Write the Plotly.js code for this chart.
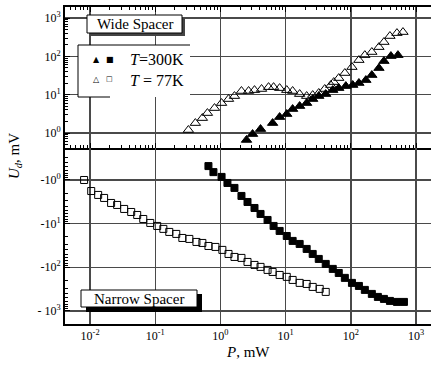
<!DOCTYPE html>
<html><head><meta charset="utf-8">
<script src="https://cdn.plot.ly/plotly-3.0.1.min.js"></script>
<style>html,body{margin:0;padding:0;background:#fff}#chart{width:431px;height:366px}</style>
</head><body><div id="chart"></div>
<script>
// Wide spacer, T=77K (open triangles)
const wide77P = [0.322,0.412,0.528,0.631,0.81,1.04,1.33,1.64,2.10,2.70,3.33,4.27,5.47,6.53,8.09,10.4,12.8,16.4,21.0,26.0,32.2,39.8,49.2,54.7,65.3,80.9,104,133,164,210,270,322,398,510,631];
const wide77U = [1.2,1.82,2.46,3.32,4.49,6.06,7.71,9.23,12.5,12.5,13.2,14.1,15.8,15.8,14.9,13.2,12.5,10.4,9.23,9.8,11.1,14.1,17.9,21.4,27.2,36.8,52.7,80.2,108,130,175,237,340,406,432];
// Wide spacer, T=300K (filled triangles)
const wide300P = [2.51,3.11,4.12,6.31,8.09,10.4,12.8,16.4,21.0,26.0,32.2,41.2,52.8,65.3,83.8,107,133,170,210,270,322,412,528];
const wide300U = [0.66,0.94,1.27,1.82,2.61,3.13,4.23,5.06,6.06,7.71,9.23,10.4,13.2,14.9,16.8,17.9,20.2,24.1,32.6,49.6,75.5,102,108];
// Narrow spacer, T=77K (open squares), negative values
const narrow77P = [0.00809,0.0104,0.0133,0.0164,0.021,0.026,0.0333,0.0427,0.0528,0.0654,0.0838,0.107,0.133,0.164,0.21,0.26,0.333,0.428,0.528,0.654,0.838,1.07,1.33,1.64,2.1,2.6,3.33,4.12,5.28,6.31,8.09,10.4,12.8,16.4,21.0,26.0,33.3,41.2];
const narrow77U = [-1.0,-1.79,-2.2,-2.58,-3.36,-3.73,-4.61,-5.41,-6.33,-7.82,-9.65,-11.3,-13.2,-15.5,-17.2,-21.3,-22.4,-26.3,-27.7,-32.5,-34.2,-40,-49.5,-58,-61,-75.5,-88.4,-98,-115,-128,-150,-166,-195,-228,-241,-282,-313,-367];
// Narrow spacer, T=300K (filled squares), negative values
const narrow300P = [0.654,0.78,1.04,1.28,1.64,2.1,2.6,3.33,4.12,5.28,6.53,8.09,10.4,12.8,16.4,21.0,26.0,32.2,41.2,52.8,65.3,80.9,104,133,164,210,260,322,398,510,653];
const narrow300U = [-0.48,-0.66,-0.85,-1.17,-1.52,-2.32,-3.19,-4.38,-6.0,-8.24,-11.3,-14.7,-19.2,-24.9,-29.2,-38,-49.5,-64.4,-83.8,-109,-135,-175,-228,-268,-330,-408,-478,-531,-590,-622,-622];

const xTickVals = [0.01,0.1,1,10,100,1000];
const xTickText = ['10<sup>-2</sup>','10<sup>-1</sup>','10<sup>0</sup>','10<sup>1</sup>','10<sup>2</sup>','10<sup>3</sup>'];
const topTickVals = [1,10,100,1000];
const topTickText = ['10<sup>0</sup>','10<sup>1</sup>','10<sup>2</sup>','10<sup>3</sup>'];
const botTickVals = [1,10,100,1000];
const botTickText = ['-10<sup>0</sup>','-10<sup>1</sup>','-10<sup>2</sup>','- 10<sup>3</sup>'];

const W=431,H=366,L=65,R=0,T=7,B=42;
const pw=W-L-R, ph=H-T-B;
const px=x=>(x-L)/pw, py=y=>(H-B-y)/ph;

const font='Liberation Serif, Times New Roman, serif';
const mk=(sym,size)=>({symbol:sym,size:size,color:'black',line:{color:'black',width:1}});

const traces=[
 {x:wide77P,y:wide77U,mode:'markers',type:'scatter',xaxis:'x',yaxis:'y',marker:mk('triangle-up-open',9)},
 {x:wide300P,y:wide300U,mode:'markers',type:'scatter',xaxis:'x',yaxis:'y',marker:mk('triangle-up',9)},
 {x:narrow77P,y:narrow77U.map(v=>-v),mode:'markers',type:'scatter',xaxis:'x2',yaxis:'y2',marker:mk('square-open',7)},
 {x:narrow300P,y:narrow300U.map(v=>-v),mode:'markers',type:'scatter',xaxis:'x2',yaxis:'y2',marker:mk('square',7)}
];

const split=py(148);
const gridc='#4a4a4a';
const minorX={ticks:'inside',ticklen:3,tickcolor:'black',dtick:'D1',showgrid:false};
const layout={
 width:W,height:H,margin:{l:L,r:R,t:T,b:B},showlegend:false,
 paper_bgcolor:'white',plot_bgcolor:'white',
 font:{family:font,size:12,color:'black'},
 xaxis:{type:'log',range:[-2.385,3.23],domain:[0,1],anchor:'y',showticklabels:false,
   tickmode:'array',tickvals:xTickVals,ticks:'inside',ticklen:5,tickcolor:'black',
   showgrid:true,gridcolor:gridc,gridwidth:1.5,showline:true,linecolor:'black',linewidth:2,mirror:'ticks',
   minor:minorX,zeroline:false},
 yaxis:{type:'log',range:[-0.39,3.29],domain:[split,1],anchor:'x',
   tickmode:'array',tickvals:topTickVals,ticktext:topTickText,ticks:'inside',ticklen:5,tickcolor:'black',
   showgrid:true,gridcolor:gridc,gridwidth:1.5,showline:true,linecolor:'black',linewidth:2,
   minor:{ticks:'inside',ticklen:3,tickcolor:'black',dtick:'D1',showgrid:false},
   tickfont:{family:font,size:12},zeroline:false},
 xaxis2:{type:'log',range:[-2.385,3.23],domain:[0,1],anchor:'y2',
   tickmode:'array',tickvals:xTickVals,ticktext:xTickText,ticks:'',
   showgrid:true,gridcolor:gridc,gridwidth:1.5,showline:true,linecolor:'black',linewidth:2,
   tickfont:{family:font,size:12},zeroline:false},
 yaxis2:{type:'log',range:[3.30,-0.733],domain:[0,split],anchor:'x2',
   tickmode:'array',tickvals:botTickVals,ticktext:botTickText,ticks:'inside',ticklen:5,tickcolor:'black',
   showgrid:true,gridcolor:gridc,gridwidth:1.5,showline:true,linecolor:'black',linewidth:2,
   minor:{ticks:'inside',ticklen:3,tickcolor:'black',dtick:'D1',showgrid:false},
   tickfont:{family:font,size:12},zeroline:false},
 shapes:[
  {type:'rect',xref:'paper',yref:'paper',x0:px(90),x1:px(185),y0:py(36),y1:py(18),fillcolor:'#444',line:{width:0},layer:'above'},
  {type:'rect',xref:'paper',yref:'paper',x0:px(87),x1:px(182),y0:py(33),y1:py(15),fillcolor:'white',line:{color:'black',width:1},layer:'above'},
  {type:'rect',xref:'paper',yref:'paper',x0:px(78),x1:px(190),y0:py(97),y1:py(45),fillcolor:'white',line:{width:0},layer:'above'},
  {type:'line',xref:'paper',yref:'paper',x0:px(78),x1:px(190),y0:py(45),y1:py(45),line:{color:'black',width:1},layer:'above'},
  {type:'line',xref:'paper',yref:'paper',x0:px(78),x1:px(78),y0:py(45),y1:py(97),line:{color:'black',width:1},layer:'above'},
  {type:'line',xref:'paper',yref:'paper',x0:px(78),x1:px(110),y0:py(97),y1:py(97),line:{color:'black',width:1},layer:'above'},
  {type:'rect',xref:'paper',yref:'paper',x0:px(86),x1:px(202),y0:py(312),y1:py(294),fillcolor:'black',line:{width:0},layer:'above'},
  {type:'rect',xref:'paper',yref:'paper',x0:px(81),x1:px(197),y0:py(307),y1:py(290),fillcolor:'white',line:{color:'black',width:1},layer:'above'}
 ],
 annotations:[
  {xref:'paper',yref:'paper',x:px(134.5),y:py(24),text:'Wide Spacer',showarrow:false,font:{family:font,size:15},xanchor:'center',yanchor:'middle'},
  {xref:'paper',yref:'paper',x:px(139),y:py(299),text:'Narrow Spacer',showarrow:false,font:{family:font,size:15},xanchor:'center',yanchor:'middle'},
  {xref:'paper',yref:'paper',x:px(96),y:py(60),text:'▲',showarrow:false,font:{family:'DejaVu Sans',size:8},xanchor:'center',yanchor:'middle'},
  {xref:'paper',yref:'paper',x:px(110),y:py(60),text:'■',showarrow:false,font:{family:'DejaVu Sans',size:8},xanchor:'center',yanchor:'middle'},
  {xref:'paper',yref:'paper',x:px(96),y:py(79),text:'△',showarrow:false,font:{family:'DejaVu Sans',size:8},xanchor:'center',yanchor:'middle'},
  {xref:'paper',yref:'paper',x:px(109),y:py(79),text:'□',showarrow:false,font:{family:'DejaVu Sans',size:7},xanchor:'center',yanchor:'middle'},
  {xref:'paper',yref:'paper',x:px(128),y:py(60),text:'<i>T</i>=300K',showarrow:false,font:{family:font,size:16},xanchor:'left',yanchor:'middle'},
  {xref:'paper',yref:'paper',x:px(128),y:py(80),text:'<i>T</i> = 77K',showarrow:false,font:{family:font,size:16},xanchor:'left',yanchor:'middle'},
  {xref:'paper',yref:'paper',x:px(248),y:py(352),text:'<i>P</i>, mW',showarrow:false,font:{family:font,size:15},xanchor:'center',yanchor:'middle'},
  {xref:'paper',yref:'paper',x:px(15),y:py(156),text:'<i>U<sub>d</sub></i>, mV',showarrow:false,textangle:-90,font:{family:font,size:15},xanchor:'center',yanchor:'middle'}
 ]
};
Plotly.newPlot('chart',traces,layout,{staticPlot:true,displayModeBar:false});
</script></body></html>
